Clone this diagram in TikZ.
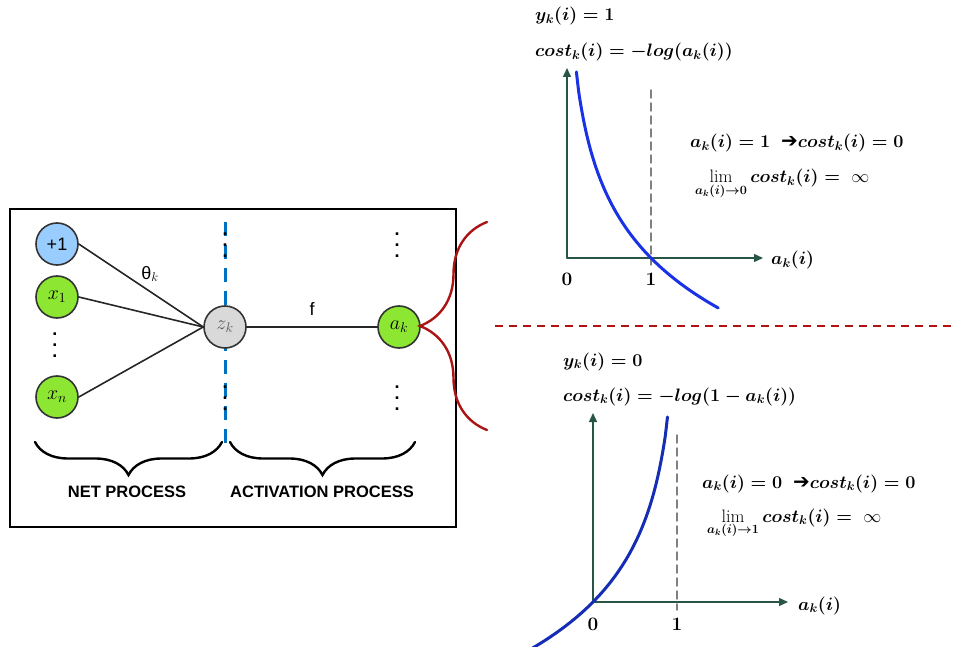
\RequirePackage{fix-cm}
\documentclass[tikz,border=0pt]{standalone}
\usepackage{fontspec}
\newfontfamily\labelfont{Liberation Sans}
\newfontfamily\arrowfont{DejaVu Sans}
\usetikzlibrary{arrows.meta,decorations.pathreplacing}

\def\akunit{84}
\def\costunit{85}
\definecolor{biasblue}{RGB}{153,204,255}
\definecolor{inputgreen}{RGB}{140,230,50}
\definecolor{sumgray}{RGB}{217,217,217}
\definecolor{splitblue}{RGB}{0,112,192}
\definecolor{bracered}{RGB}{170,20,20}
\definecolor{axisgreen}{RGB}{40,85,70}
\definecolor{costblue}{RGB}{25,50,230}
\definecolor{costdarkblue}{RGB}{20,45,180}
\newcommand{\limto}[1]{\mathop{\mbox{\unboldmath$\mathrm{lim}$}}\limits_{a_k(i)\to #1}}
\newcommand{\eqinf}{=\ \mbox{\unboldmath$\infty$}}
\newcommand{\colondots}{\vbox{\baselineskip=11pt\lineskiplimit=0pt\hbox{.}\hbox{.}\hbox{.}}}

\begin{document}
\begin{tikzpicture}[x=1pt,y=-1pt,line cap=round,
  neuron/.style={circle,draw=black!80,line width=1.6pt,minimum size=42pt,inner sep=0pt,font=\fontsize{20}{22}\selectfont},
  link/.style={black!85,line width=1.6pt},
  curly/.style={decorate,decoration={brace,amplitude=#1},line width=2.4pt},
  caption/.style={font=\labelfont\bfseries\fontsize{16.5}{18}\selectfont},
  dots/.style={font=\labelfont\bfseries\fontsize{18}{20}\selectfont,inner sep=0pt},
  eq/.style={anchor=base west,inner sep=0pt,font=\fontsize{18}{21}\selectfont\boldmath},
  ticklab/.style={anchor=base,inner sep=0pt,font=\fontsize{19}{21}\selectfont\bfseries},
  axis/.style={axisgreen,line width=1.4pt,-{Triangle[length=9pt,width=8pt]}},
  guide/.style={gray,line width=1.5pt,dash pattern=on 8pt off 5pt}]
  \useasboundingbox (0,0) rectangle (959,647);

  % network box
  \draw[line width=1.6pt] (10,209) rectangle (456,527);
  \draw[splitblue,line width=3pt,line cap=butt,dash pattern=on 14pt off 9pt] (225,222) -- (225,445);
  \node[neuron,fill=biasblue,font=\labelfont\fontsize{18}{20}\selectfont] (bias) at (57,244) {+1};
  \node[neuron,fill=inputgreen] (x1) at (57,297) {$x_1$};
  \node[neuron,fill=inputgreen] (xn) at (57,397) {$x_n$};
  \node[neuron,fill=sumgray,text=black!65] (z) at (225,327) {$z_k$};
  \node[neuron,fill=inputgreen] (a) at (399,327) {$a_k$};
  \foreach \src in {bias,x1,xn} { \draw[link] (\src.east) -- (z.west); }
  \draw[link] (z) -- (a);
  \node[font=\labelfont\fontsize{18}{20}\selectfont] (theta) at (150,274) {θ$_k$};
  \node[font=\labelfont\fontsize{18}{20}\selectfont] (f) at (312,309) {f};
  \foreach \n/\x/\y in {d1/55/345, d2/225/245, d3/225/398, d4/397/245, d5/397/398} {
    \node[dots] (\n) at (\x,\y) {\colondots};
  }
  \draw[curly=33pt] (222,442) -- (35,442);
  \draw[curly=33pt] (415,442) -- (230,442);
  \node[caption] (net) at (127,492) {NET PROCESS};
  \node[caption] (act) at (322,492) {ACTIVATION PROCESS};

  % red brace and split line
  \draw[bracered,curly=67pt] (487,430) -- (487,222);
  \draw[bracered!90!red,line width=2pt,line cap=butt,dash pattern=on 8pt off 6pt] (495,326) -- (955,326);

  % case y = 1
  \coordinate (o1) at (567,258);
  \coordinate (y1) at (567,68);
  \coordinate (x1end) at (763,258);
  \draw[guide] (651,90) -- (651,265);
  \draw[axis] (o1) -- (y1);
  \draw[axis] (o1) -- (x1end);
  \draw[costblue,line width=3pt] plot[domain=0.112:1.8,samples=60,smooth] ({567+\akunit*\x},{258+\costunit*ln(\x)});
  \node[ticklab] (t10) at (567,286) {0};
  \node[ticklab] (t11) at (651,286) {1};
  \node[eq] (xl1) at (771,265) {$a_k(i)$};
  \node[eq] (y1eq) at (535,21) {$y_k(i) = 1$};
  \node[eq] (c1eq) at (535,57) {$cost_k(i) = -log(a_k(i))$};
  \node[eq] (r1eq) at (690,148) {$a_k(i) = 1$\ \ {\arrowfont\fontsize{20}{21}\selectfont ➔}$cost_k(i) = 0$};
  \node[eq] (l1eq) at (695,183) {$\limto{0} cost_k(i) \eqinf$};

  % case y = 0
  \coordinate (o0) at (593,602);
  \coordinate (y0) at (593,413);
  \coordinate (x0end) at (788,602);
  \draw[guide] (677,435) -- (677,610);
  \draw[axis] (o0) -- (y0);
  \draw[axis] (o0) -- (x0end);
  \draw[costdarkblue,line width=3pt] plot[domain=-0.75:0.887,samples=60,smooth] ({593+\akunit*\x},{602+\costunit*ln(1-\x)});
  \node[ticklab] (t00) at (593,630) {0};
  \node[ticklab] (t01) at (677,630) {1};
  \node[eq] (xl0) at (798,610) {$a_k(i)$};
  \node[eq] (y0eq) at (563,366) {$y_k(i) = 0$};
  \node[eq] (c0eq) at (563,401) {$cost_k(i) = -log(1 - a_k(i))$};
  \node[eq] (r0eq) at (702,488) {$a_k(i) = 0$\ \ {\arrowfont\fontsize{20}{21}\selectfont ➔}$cost_k(i) = 0$};
  \node[eq] (l0eq) at (707,522) {$\limto{1} cost_k(i) \eqinf$};
\end{tikzpicture}
\end{document}
